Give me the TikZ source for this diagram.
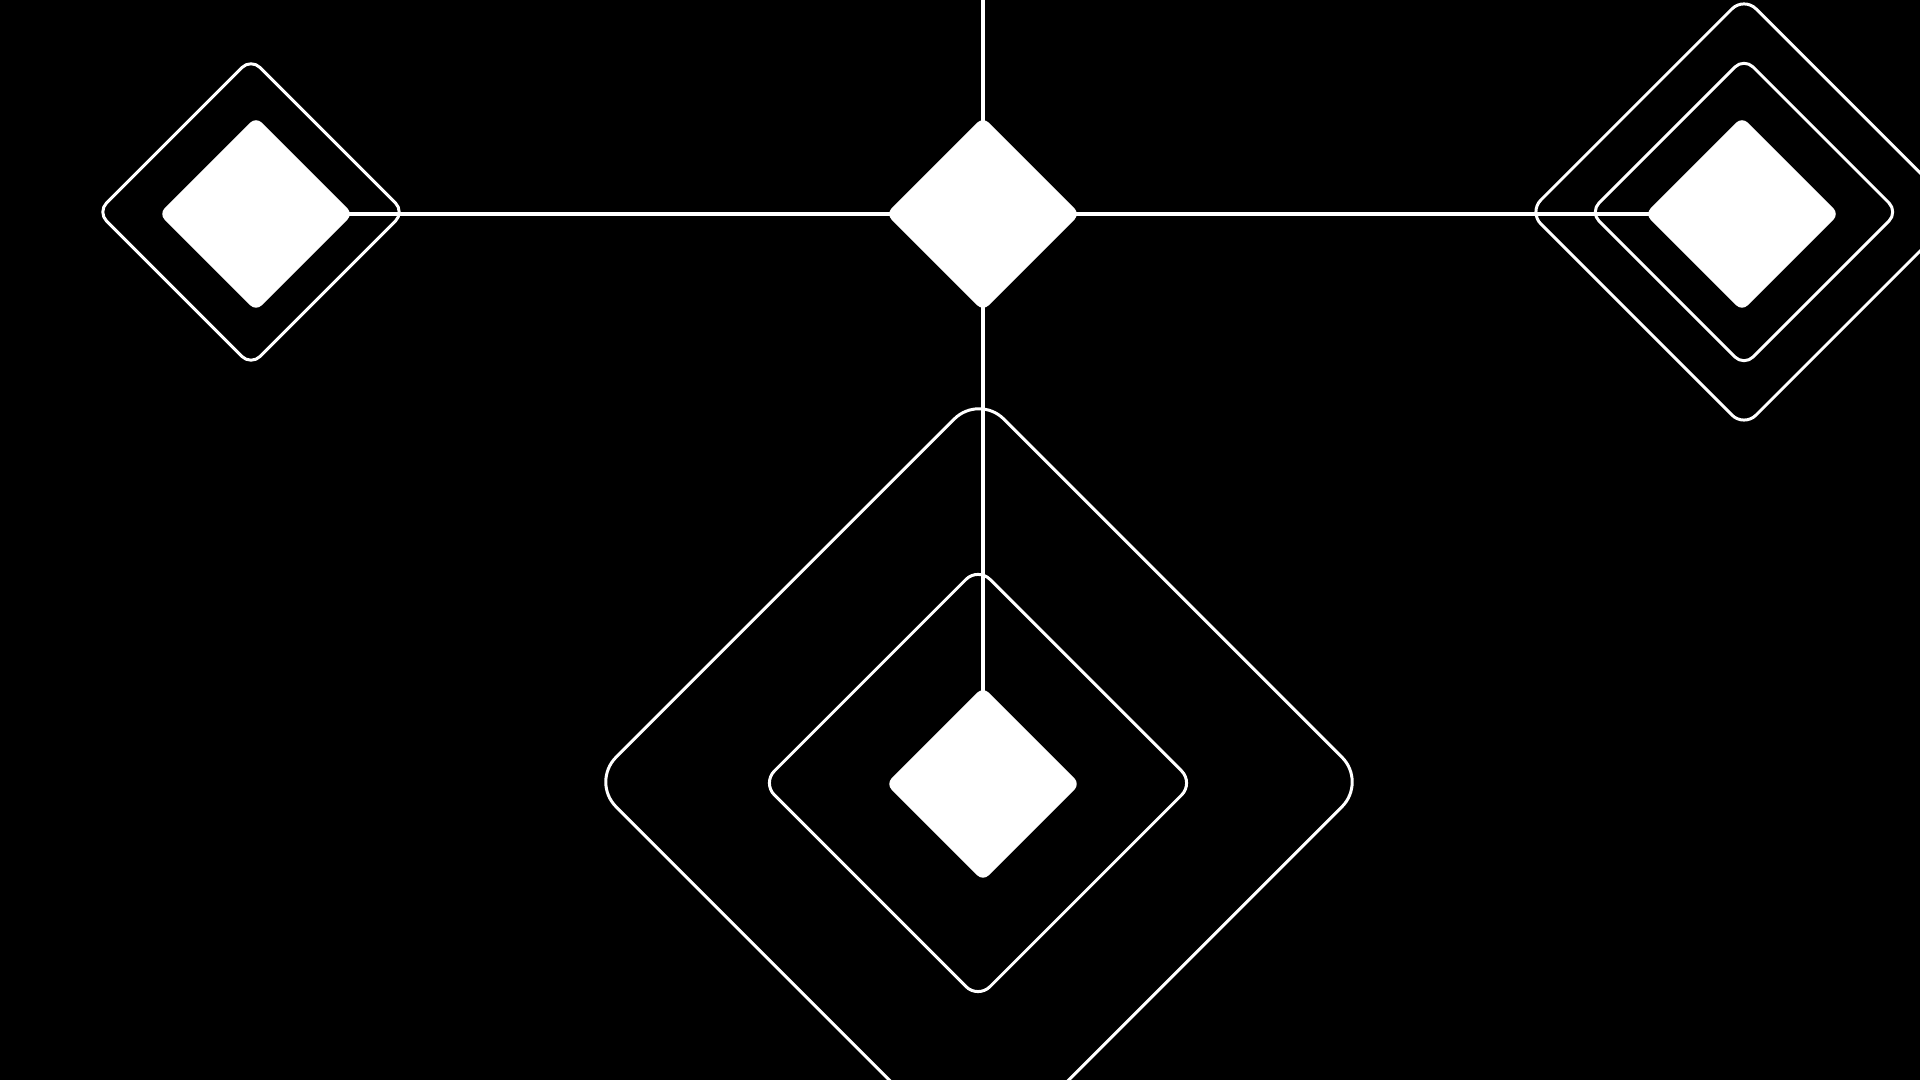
\documentclass[tikz,border=0pt]{standalone}
\usetikzlibrary{shapes.geometric}

\begin{document}
\begin{tikzpicture}[x=0.01cm,y=-0.01cm,
  gem/.style={shape=diamond,fill=white,draw=none,inner sep=0pt,outer sep=0pt,
    minimum size=1.94cm,rounded corners=0.8mm},
  ring/.style={shape=diamond,draw=white,line width=0.85pt,inner sep=0pt,outer sep=0pt},
  wire/.style={draw=white,line width=0.9pt,shorten <=-0.8mm,shorten >=-0.8mm}]
\useasboundingbox (0,0) rectangle (1920,1080);
\clip (0,0) rectangle (1920,1080);
\fill [black] (0,0) rectangle (1920,1080);
\node (tlring) at (251,212)   [ring,minimum size=3.07cm,rounded corners=1.3mm] {};
\node (trring) at (1744,212)  [ring,minimum size=3.08cm,rounded corners=1.3mm] {};
\node (trouter) at (1744,212) [ring,minimum size=4.30cm,rounded corners=1.7mm] {};
\node (btring) at (978,783)   [ring,minimum size=4.31cm,rounded corners=1.7mm] {};
\node (btouter) at (979,782)  [ring,minimum size=7.75cm,rounded corners=3.5mm] {};
\node (tl) at (256,214)  [gem] {};
\node (mid) at (983,214) [gem] {};
\node (tr) at (1742,214) [gem] {};
\node (bt) at (983,784)  [gem] {};
\coordinate (top) at (983,0);
\draw [wire] (top) -- (mid.north);
\draw [wire] (tl.east) -- (mid.west);
\draw [wire] (mid.east) -- (tr.west);
\draw [wire] (mid.south) -- (bt.north);
\end{tikzpicture}
\end{document}
